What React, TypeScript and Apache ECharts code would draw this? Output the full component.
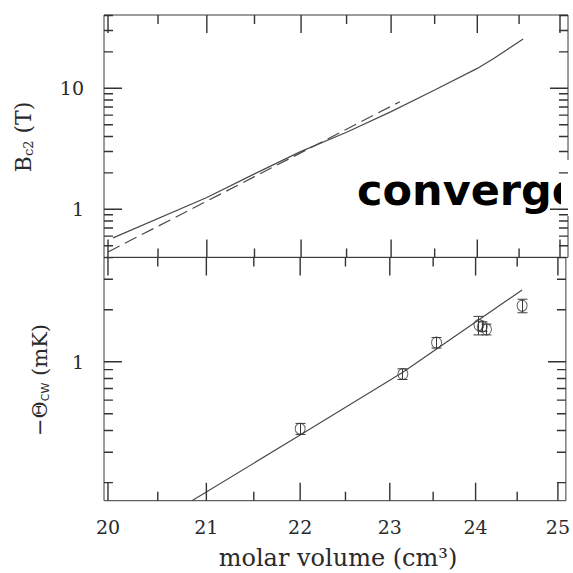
import React, { useEffect, useRef } from "react";
import * as echarts from "echarts";

// Axis ticks (molar volume in cm^3, fields in T, temperatures in mK)
const volumeTicks = [20, 21, 22, 23, 24, 25];
const volumeMinorTicks = [20.5, 21.5, 22.5, 23.5, 24.5];
const bc2Ticks = [1, 10];
const bc2MinorTicks = [0.5, 0.6, 0.7, 0.8, 0.9, 2, 3, 4, 5, 6, 7, 8, 9, 20, 30, 40];
const thetaTicks = [1];
const thetaMinorTicks = [0.2, 0.3, 0.4, 0.5, 0.6, 0.7, 0.8, 0.9, 2, 3, 4];

// Upper critical field curves
const bc2SolidVolume = [20.05, 21, 21.5, 22, 22.5, 23, 23.5, 24, 24.2, 24.55];
const bc2SolidField = [0.58, 1.25, 1.96, 3.01, 4.33, 6.41, 9.68, 14.6, 17.7, 25.6];
const bc2DashedVolume = [20, 21.5, 23.1];
const bc2DashedField = [0.444, 1.86, 7.75];

// Curie-Weiss temperatures with error bars
const thetaVolume = [22.0, 23.15, 23.54, 24.04, 24.08, 24.13, 24.56];
const thetaValue = [0.41, 0.85, 1.29, 1.63, 1.6, 1.54, 2.11];
const thetaError = [0.03, 0.06, 0.09, 0.2, 0.1, 0.11, 0.19];

// Power-law fit through the Curie-Weiss temperatures
const thetaFitVolume = [20.85, 22, 23.15, 24.56];
const thetaFitValue = [0.157, 0.377, 0.87, 2.6];

const lg = Math.log10;
const INK = "#3a3a3a";
const TICK_INK = "#333333";
const TEXT = "#2a2a2a";
const SERIF = "'DejaVu Serif', 'Liberation Serif', serif";

const X_MIN = lg(20) - 4 / 4664.1;
const X_MAX = lg(20) + 460 / 4664.1;
const B_MIN = lg(0.4);
const B_MAX = 1 + 73.3 / 121;
const T_MIN = -139 / 173;
const T_MAX = 104.4 / 173;

const PLOT_LEFT = 104;
const PLOT_WIDTH = 464;
const TOP_PANEL = { top: 15, height: 242.4 };
const BOTTOM_PANEL = { top: 257.4, height: 243.3 };

const MAJOR_LEN = 18;
const MINOR_LEN = 9;

const fmt = (v: number) => String(Math.round(Math.pow(10, v)));
const crisp = (v: number) => Math.round(v - 0.5) + 0.5;
const barStyle = { stroke: INK, lineWidth: 1 };

// Inward frame ticks of one panel, drawn as broken line segments in data space
function frameTicks(
  gridIndex: number,
  yMin: number,
  yMax: number,
  panelHeight: number,
  yMajor: number[],
  yMinor: number[]
) {
  const yPerPx = (yMax - yMin) / panelHeight;
  const xPerPx = (X_MAX - X_MIN) / PLOT_WIDTH;
  const data: any[] = [];
  const xt = [
    ...volumeTicks.map((v) => [lg(v), MAJOR_LEN]),
    ...volumeMinorTicks.map((v) => [lg(v), MINOR_LEN]),
  ];
  for (const [x, len] of xt) {
    data.push([x, yMax], [x, yMax - len * yPerPx], [x, "-"]);
    data.push([x, yMin], [x, yMin + len * yPerPx], [x, "-"]);
  }
  const yt = [
    ...yMajor.map((v) => [lg(v), MAJOR_LEN]),
    ...yMinor.map((v) => [lg(v), MINOR_LEN]),
  ];
  for (const [y, len] of yt) {
    data.push([X_MIN, y], [X_MIN + len * xPerPx, y], ["-", y]);
    data.push([X_MAX, y], [X_MAX - len * xPerPx, y], ["-", y]);
  }
  return {
    name: "frame ticks " + gridIndex,
    type: "line",
    xAxisIndex: gridIndex,
    yAxisIndex: gridIndex,
    data,
    showSymbol: false,
    connectNulls: false,
    silent: true,
    clip: false,
    z: 6,
    lineStyle: { color: TICK_INK, width: 1.4 },
  };
}

function xAxis(gridIndex: number, withLabels: boolean) {
  return {
    type: "value",
    gridIndex,
    min: X_MIN,
    max: X_MAX,
    axisLine: { show: false },
    axisTick: { show: false },
    axisLabel: {
      show: withLabels,
      customValues: volumeTicks.map((v) => lg(v)),
      formatter: fmt,
      margin: 17,
      fontFamily: SERIF,
      fontSize: 19,
      color: TEXT,
    },
    splitLine: { show: false },
  };
}

function yAxis(gridIndex: number, min: number, max: number, major: number[]) {
  return {
    type: "value",
    gridIndex,
    min,
    max,
    axisLine: { show: false },
    axisTick: { show: false },
    axisLabel: {
      customValues: major.map((v) => lg(v)),
      formatter: fmt,
      margin: 20,
      fontFamily: SERIF,
      fontSize: 19,
      color: TEXT,
    },
    splitLine: { show: false },
  };
}

export default function App() {
  const ref = useRef<HTMLDivElement>(null);

  useEffect(() => {
    document.body.style.margin = "0";
    if (!ref.current) return;
    const chart = echarts.init(ref.current, undefined, { renderer: "svg" });

    const errorData = thetaVolume.map((v, i) => [
      lg(v),
      lg(thetaValue[i] - thetaError[i]),
      lg(thetaValue[i] + thetaError[i]),
    ]);

    const gridBase = {
      show: true,
      borderColor: INK,
      borderWidth: 1,
      backgroundColor: "transparent",
      left: PLOT_LEFT,
      width: PLOT_WIDTH,
    };

    const option: any = {
      animation: false,
      backgroundColor: "#ffffff",
      grid: [
        { ...gridBase, ...TOP_PANEL },
        { ...gridBase, ...BOTTOM_PANEL },
      ],
      xAxis: [xAxis(0, false), xAxis(1, true)],
      yAxis: [yAxis(0, B_MIN, B_MAX, bc2Ticks), yAxis(1, T_MIN, T_MAX, thetaTicks)],
      series: [
        frameTicks(0, B_MIN, B_MAX, TOP_PANEL.height, bc2Ticks, bc2MinorTicks),
        frameTicks(1, T_MIN, T_MAX, BOTTOM_PANEL.height, thetaTicks, thetaMinorTicks),
        {
          name: "Bc2",
          type: "line",
          xAxisIndex: 0,
          yAxisIndex: 0,
          data: bc2SolidVolume.map((v, i) => [lg(v), lg(bc2SolidField[i])]),
          showSymbol: false,
          lineStyle: { color: "#4a4a4a", width: 1.2 },
          clip: true,
        },
        {
          name: "Bc2 fit",
          type: "line",
          xAxisIndex: 0,
          yAxisIndex: 0,
          data: bc2DashedVolume.map((v, i) => [lg(v), lg(bc2DashedField[i])]),
          showSymbol: false,
          lineStyle: { color: "#4a4a4a", width: 1.2, type: [13, 6] },
          clip: true,
        },
        {
          name: "Theta fit",
          type: "line",
          xAxisIndex: 1,
          yAxisIndex: 1,
          data: thetaFitVolume.map((v, i) => [lg(v), lg(thetaFitValue[i])]),
          showSymbol: false,
          lineStyle: { color: "#4a4a4a", width: 1.2 },
          clip: true,
        },
        {
          name: "Theta error",
          type: "custom",
          xAxisIndex: 1,
          yAxisIndex: 1,
          data: errorData,
          encode: { x: 0, y: [1, 2] },
          z: 4,
          renderItem: (params: any, api: any) => {
            const x = api.value(0);
            const lo = api.coord([x, api.value(1)]);
            const hi = api.coord([x, api.value(2)]);
            const cx = crisp(lo[0]);
            const w = 5;
            return {
              type: "group",
              children: [
                { type: "line", shape: { x1: cx, y1: lo[1], x2: cx, y2: hi[1] }, style: barStyle },
                { type: "line", shape: { x1: cx - w, y1: lo[1], x2: cx + w, y2: lo[1] }, style: barStyle },
                { type: "line", shape: { x1: cx - w, y1: hi[1], x2: cx + w, y2: hi[1] }, style: barStyle },
              ],
            };
          },
        },
        {
          name: "Theta",
          type: "scatter",
          xAxisIndex: 1,
          yAxisIndex: 1,
          data: thetaVolume.map((v, i) => [lg(v), lg(thetaValue[i])]),
          symbol: "circle",
          symbolSize: [10, 11],
          itemStyle: { color: "transparent", borderColor: INK, borderWidth: 1 },
          z: 5,
        },
      ],
      graphic: [
        {
          type: "text",
          z: 1,
          x: 357,
          y: 190,
          style: {
            text: "convergence",
            font: "bold 43px 'DejaVu Sans', sans-serif",
            fill: "#000000",
            verticalAlign: "middle",
          },
        },
        {
          type: "rect",
          z: 2,
          shape: { x: 561, y: 160, width: 12, height: 56 },
          style: { fill: "#ffffff" },
        },
        {
          type: "text",
          z: 3,
          x: 23,
          y: 137,
          rotation: Math.PI / 2,
          style: {
            text: "{n|B}{s|c2}{n| (T)}",
            align: "center",
            verticalAlign: "middle",
            rich: {
              n: { fontFamily: SERIF, fontSize: 22, fill: TEXT },
              s: { fontFamily: SERIF, fontSize: 13, fill: TEXT, padding: [10, 0, 0, 0] },
            },
          },
        },
        {
          type: "text",
          z: 3,
          x: 40,
          y: 380,
          rotation: Math.PI / 2,
          style: {
            text: "{n|\u2212\u0398}{s|CW}{n| (mK)}",
            align: "center",
            verticalAlign: "middle",
            rich: {
              n: { fontFamily: SERIF, fontSize: 21, fill: TEXT },
              s: { fontFamily: "'DejaVu Sans', sans-serif", fontSize: 11, fill: TEXT, padding: [10, 0, 0, 0] },
            },
          },
        },
        {
          type: "text",
          z: 3,
          x: 338,
          y: 558,
          style: {
            text: "molar volume (cm\u00b3)",
            align: "center",
            verticalAlign: "middle",
            fontFamily: SERIF,
            fontSize: 24,
            fill: TEXT,
          },
        },
      ],
    };

    chart.setOption(option);
    return () => chart.dispose();
  }, []);

  return <div ref={ref} style={{ width: 573, height: 573 }} />;
}
